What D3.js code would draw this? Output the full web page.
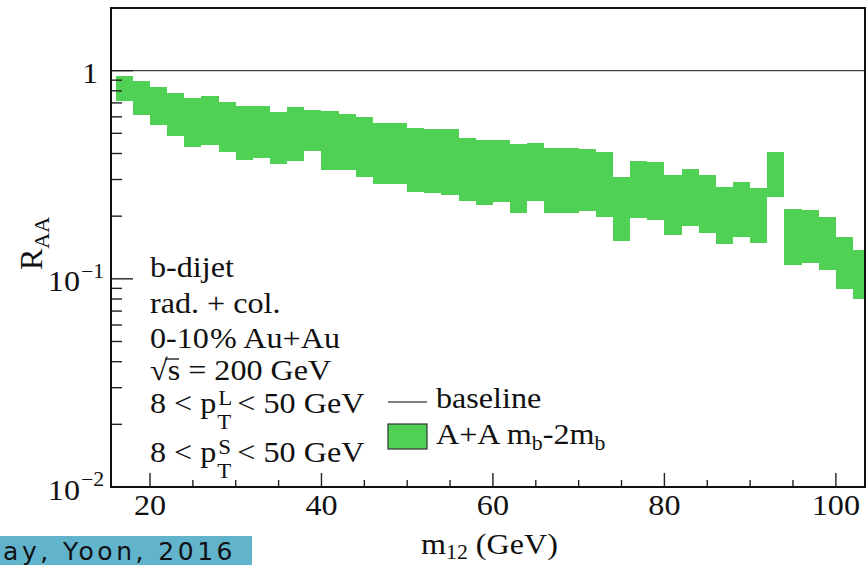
<!DOCTYPE html>
<html><head><meta charset="utf-8">
<script src="https://cdn.jsdelivr.net/npm/d3@7"></script>
<style>body{margin:0;background:#fff}svg{display:block}</style>
</head><body>
<svg id="c" width="866" height="565"></svg>
<script>
const binStart = [16,18,20,22,24,26,28,30,32,34,36,38,40,42,44,46,48,50,52,54,56,58,60,62,64,66,68,70,72,74,76,78,80,82,84,86,88,90,92,94,96,98,100,102];
const binWidth = 2;
const upper = [0.939,0.888,0.835,0.784,0.739,0.752,0.704,0.674,0.679,0.635,0.666,0.647,0.637,0.619,0.599,0.558,0.559,0.530,0.522,0.522,0.475,0.464,0.466,0.442,0.451,0.425,0.423,0.420,0.405,0.308,0.369,0.366,0.314,0.337,0.315,0.277,0.292,0.272,0.407,0.217,0.214,0.198,0.159,0.137];
const lower = [0.717,0.612,0.546,0.485,0.431,0.439,0.408,0.372,0.379,0.356,0.369,0.412,0.334,0.334,0.307,0.285,0.285,0.260,0.258,0.253,0.237,0.226,0.235,0.206,0.236,0.206,0.208,0.211,0.199,0.152,0.196,0.192,0.162,0.180,0.166,0.147,0.159,0.149,0.246,0.116,0.119,0.110,0.0898,0.0796];
const baseline = 1;
const xTicks = [20,40,60,80,100];
const xMinor = [25,30,35,45,50,55,65,70,75,85,90,95];
const yMajor = [1,0.1,0.01];
const yMajorLabels = [["1",""],["10","\u22121"],["10","\u22122"]];
const yMinor = [0.9,0.8,0.7,0.6,0.5,0.4,0.3,0.2,0.09,0.08,0.07,0.06,0.05,0.04,0.03,0.02];

const L = 111, R = 865, T = 8, B = 487;
const x = d3.scaleLinear().domain([15.45, 103.4]).range([L, R]);
const y = d3.scaleLog().domain([0.01, 2.0]).range([B, T]);
const svg = d3.select("#c");
const FONT = "'Liberation Serif','Times New Roman',serif";
const FS = 29.5, SX = 1.09;
const green = "#50d055";

svg.append("defs").append("clipPath").attr("id","clip")
  .append("rect").attr("x",L).attr("y",T).attr("width",R-L).attr("height",B-T);

// band
svg.append("g").attr("clip-path","url(#clip)").selectAll("rect").data(binStart).join("rect")
  .attr("x", d => x(d)).attr("width", d => x(d+binWidth)-x(d))
  .attr("y", (d,i) => y(upper[i])).attr("height", (d,i) => y(lower[i]) - y(upper[i]))
  .attr("fill", green).attr("shape-rendering","crispEdges");

// baseline
svg.append("line").attr("x1",L).attr("x2",R).attr("y1",y(baseline)).attr("y2",y(baseline))
  .attr("stroke","#444").attr("stroke-width",1.4);

// ticks
const tg = svg.append("g").attr("stroke","#222").attr("stroke-width",1.4);
yMajor.forEach(v => tg.append("line").attr("x1",L).attr("x2",L+22).attr("y1",y(v)).attr("y2",y(v)));
yMinor.forEach(v => tg.append("line").attr("x1",L).attr("x2",L+11).attr("y1",y(v)).attr("y2",y(v)));
xTicks.forEach(v => tg.append("line").attr("x1",x(v)).attr("x2",x(v)).attr("y1",B).attr("y2",B-14));
xMinor.forEach(v => tg.append("line").attr("x1",x(v)).attr("x2",x(v)).attr("y1",B).attr("y2",B-7));

// frame
svg.append("rect").attr("x",L).attr("y",T).attr("width",R-L).attr("height",B-T)
  .attr("fill","none").attr("stroke","#111").attr("stroke-width",2);

function txt(px, py, anchor, size){
  return svg.append("text").attr("transform",`translate(${px},${py}) scale(${SX},1)`)
    .attr("font-family",FONT).attr("font-size",size||FS).attr("fill","#111")
    .attr("text-anchor",anchor||"start");
}

// y labels
yMajor.forEach((v,i) => {
  const [b, s] = yMajorLabels[i];
  const t = txt(s ? 80 : 98, y(v)+12.5, "end");
  t.append("tspan").text(b);
  if (s) {
    const t2 = txt(81, y(v)-1, "start", 20); t2.text(s);
  }
});
// x labels
xTicks.forEach(v => txt(x(v), 515, "middle").text(v));

// x title
{
  const t = txt(421, 554, "start");
  t.append("tspan").text("m");
  t.append("tspan").attr("font-size",20).attr("dy",5).text("12");
  t.append("tspan").attr("dy",-5).text(" (GeV)");
}
// y title
{
  const t = svg.append("text").attr("transform","translate(42,270) rotate(-90)")
    .attr("font-family",FONT).attr("font-size",32).attr("fill","#111");
  t.append("tspan").text("R");
  t.append("tspan").attr("font-size",22).attr("dy",7).text("AA");
}

// text block
const X0 = 150;
txt(X0, 277).text("b-dijet");
txt(X0, 313).text("rad. + col.");
{
  const t = txt(X0, 348);
  t.append("tspan").text("0-10");
  t.append("tspan").attr("dx",1).text("%");
  t.append("tspan").attr("dx",6).text("Au+Au");
}
{
  const t = txt(X0, 380);
  t.append("tspan").text("\u221A");
  t.append("tspan").text("s = 200 GeV");
  svg.append("line").attr("x1",X0+15).attr("x2",X0+29).attr("y1",359).attr("y2",359)
    .attr("stroke","#111").attr("stroke-width",1.3);
}
function ptLine(by, sup){
  const t = txt(X0, by); t.text("8 < p");
  const w = t.node().getComputedTextLength()*SX;
  txt(X0+w+2, by-8, "start", 21).text(sup);
  txt(X0+w+1, by+16, "start", 21).text("T");
  txt(X0+w+21, by).text("< 50 GeV");
}
ptLine(413, "L");
ptLine(462, "S");

// legend
svg.append("line").attr("x1",388).attr("x2",427).attr("y1",402).attr("y2",402)
  .attr("stroke","#555").attr("stroke-width",1.4);
txt(436, 408).text("baseline");
svg.append("rect").attr("x",388).attr("y",424).attr("width",39).attr("height",25)
  .attr("fill",green).attr("stroke","#333").attr("stroke-width",1.2);
{
  const t = txt(436, 444);
  t.append("tspan").text("A+A m");
  t.append("tspan").attr("font-size",20).attr("dy",6).text("b");
  t.append("tspan").attr("dy",-6).text("-2m");
  t.append("tspan").attr("font-size",20).attr("dy",6).text("b");
}

// bottom-left banner
svg.append("rect").attr("x",0).attr("y",536).attr("width",252).attr("height",29).attr("fill","#62b4cc");
svg.append("text").attr("x",236).attr("y",560).attr("text-anchor","end")
  .attr("font-family","'DejaVu Sans',sans-serif").attr("font-size",25).attr("fill","#111")
  .attr("letter-spacing",3.5).text("ay, Yoon, 2016");
</script>
</body></html>
